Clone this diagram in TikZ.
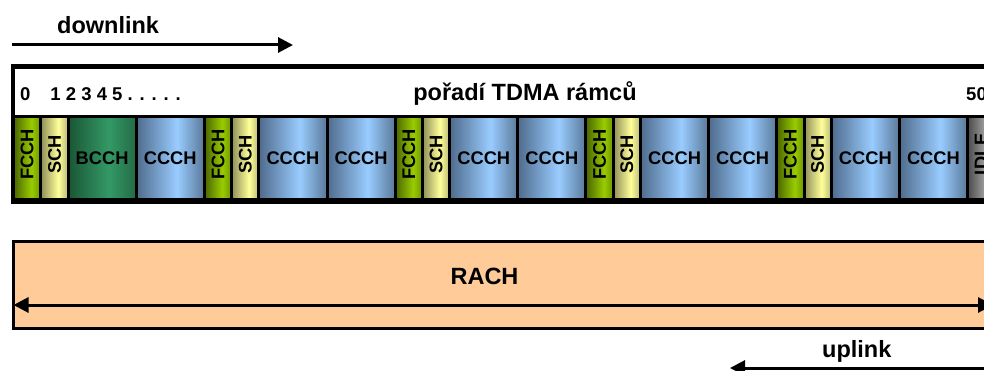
\documentclass[tikz,border=0pt]{standalone}
\usepackage{fontspec}
\setmainfont{Liberation Sans}
\usetikzlibrary{arrows.meta}

% channel colours: dark edge / light centre
\definecolor{fcchD}{HTML}{4A6400}
\definecolor{fcchL}{HTML}{99CC00}
\definecolor{fcchM}{HTML}{6E9400}
\definecolor{schD}{HTML}{8E8E58}
\definecolor{schL}{HTML}{FFFF99}
\definecolor{schM}{HTML}{B8B878}
\definecolor{bcchD}{HTML}{1A5634}
\definecolor{bcchL}{HTML}{339966}
\definecolor{bcchM}{HTML}{236B45}
\definecolor{ccchD}{HTML}{4F6B8C}
\definecolor{ccchL}{HTML}{99CCFF}
\definecolor{ccchM}{HTML}{5A7898}
\definecolor{idleD}{HTML}{4A4A4A}
\definecolor{idleL}{HTML}{9A9A9A}
\definecolor{idleM}{HTML}{5E5E5E}
\definecolor{rachfill}{HTML}{FFCC99}

% cylinder-like horizontal shadings (25bp..75bp spans the cell)
\pgfdeclarehorizontalshading{fcchshade}{100bp}{color(0bp)=(fcchD); color(25bp)=(fcchD); color(58bp)=(fcchL); color(75bp)=(fcchM); color(100bp)=(fcchM)}
\pgfdeclarehorizontalshading{schshade}{100bp}{color(0bp)=(schD); color(25bp)=(schD); color(57bp)=(schL); color(75bp)=(schM); color(100bp)=(schM)}
\pgfdeclarehorizontalshading{bcchshade}{100bp}{color(0bp)=(bcchD); color(25bp)=(bcchD); color(55bp)=(bcchL); color(75bp)=(bcchM); color(100bp)=(bcchM)}
\pgfdeclarehorizontalshading{ccchshade}{100bp}{color(0bp)=(ccchD); color(25bp)=(ccchD); color(55bp)=(ccchL); color(75bp)=(ccchM); color(100bp)=(ccchM)}
\pgfdeclarehorizontalshading{idleshade}{100bp}{color(0bp)=(idleD); color(25bp)=(idleD); color(55bp)=(idleL); color(75bp)=(idleM); color(100bp)=(idleM)}

\tikzset{
  cell/.style={draw=black, line width=3pt, minimum height=83pt, inner sep=0pt, anchor=west},
  narrow/.style={cell, minimum width=27.3pt},
  wide/.style={cell, minimum width=68.1pt},
  fcch/.style={narrow, shading=fcchshade},
  sch/.style={narrow, shading=schshade},
  bcch/.style={wide, shading=bcchshade},
  ccch/.style={wide, shading=ccchshade},
  idle/.style={narrow, shading=idleshade},
  celltxt/.style={inner sep=0pt, font=\bfseries\fontsize{18.3}{18.3}\selectfont},
  vtxt/.style={celltxt, rotate=90, xshift=4.3pt},
  frame/.style={draw=black, line width=3pt, inner sep=0pt, anchor=north west},
  bigtxt/.style={inner sep=0pt, font=\bfseries\fontsize{23.5}{23.5}\selectfont},
  smalltxt/.style={inner sep=0pt, font=\bfseries\fontsize{18.5}{18.5}\selectfont},
  linktxt/.style={inner sep=0pt, font=\bfseries\fontsize{23.5}{23.5}\selectfont},
  dirarrow/.style={line width=3pt, -{Triangle[length=15pt,width=15pt]}},
}

\begin{document}
\begin{tikzpicture}[x=1pt, y=-1pt]
\useasboundingbox (0,0) rectangle (984,371);
\clip (0,0) rectangle (984,371);

% downlink direction
\node[linktxt, anchor=base west] (dltxt) at (57,34) {downlink};
\coordinate (dlA) at (12,45);
\coordinate (dlB) at (293,45);
\draw[dirarrow] (dlA) -- (dlB);

% TDMA frame with numbering row
\node[frame, fill=white, minimum width=990pt, minimum height=134pt] (tdma) at (12,66) {};
\node[smalltxt, anchor=base west] (nums) at (20,101) {0\hspace{20pt}1 2 3 4 5 . . . . .};
\node[bigtxt, anchor=base] (order) at (525,101) {pořadí TDMA rámců};
\node[smalltxt, anchor=base west] (last) at (966,101) {50};

% channel cells
\node[fcch] (c1)  at (12,158.5) {};
\node[sch]  (c2)  at (39.3,158.5) {};
\node[bcch] (c3)  at (66.6,158.5) {};
\node[ccch] (c4)  at (134.7,158.5) {};
\node[fcch] (c5)  at (202.8,158.5) {};
\node[sch]  (c6)  at (230.1,158.5) {};
\node[ccch] (c7)  at (257.4,158.5) {};
\node[ccch] (c8)  at (325.5,158.5) {};
\node[fcch] (c9)  at (393.6,158.5) {};
\node[sch]  (c10) at (420.9,158.5) {};
\node[ccch] (c11) at (448.2,158.5) {};
\node[ccch] (c12) at (516.3,158.5) {};
\node[fcch] (c13) at (584.4,158.5) {};
\node[sch]  (c14) at (611.7,158.5) {};
\node[ccch] (c15) at (639,158.5) {};
\node[ccch] (c16) at (707.1,158.5) {};
\node[fcch] (c17) at (775.2,158.5) {};
\node[sch]  (c18) at (802.5,158.5) {};
\node[ccch] (c19) at (829.8,158.5) {};
\node[ccch] (c20) at (897.9,158.5) {};
\node[idle] (c21) at (966,158.5) {};

% cell labels
\node[vtxt]    (t1)  at (c1.center)  {FCCH};
\node[vtxt]    (t2)  at (c2.center)  {SCH};
\node[celltxt] (t3)  at (c3.center)  {BCCH};
\node[celltxt] (t4)  at (c4.center)  {CCCH};
\node[vtxt]    (t5)  at (c5.center)  {FCCH};
\node[vtxt]    (t6)  at (c6.center)  {SCH};
\node[celltxt] (t7)  at (c7.center)  {CCCH};
\node[celltxt] (t8)  at (c8.center)  {CCCH};
\node[vtxt]    (t9)  at (c9.center)  {FCCH};
\node[vtxt]    (t10) at (c10.center) {SCH};
\node[celltxt] (t11) at (c11.center) {CCCH};
\node[celltxt] (t12) at (c12.center) {CCCH};
\node[vtxt]    (t13) at (c13.center) {FCCH};
\node[vtxt]    (t14) at (c14.center) {SCH};
\node[celltxt] (t15) at (c15.center) {CCCH};
\node[celltxt] (t16) at (c16.center) {CCCH};
\node[vtxt]    (t17) at (c17.center) {FCCH};
\node[vtxt]    (t18) at (c18.center) {SCH};
\node[celltxt] (t19) at (c19.center) {CCCH};
\node[celltxt] (t20) at (c20.center) {CCCH};
\node[vtxt]    (t21) at (c21.center) {IDLE};

% outer border on top of the cells
\draw[line width=3pt] (tdma.north west) rectangle (tdma.south east);

% RACH band
\node[frame, fill=rachfill, minimum width=990pt, minimum height=87pt] (rach) at (12,240) {};
\node[bigtxt, anchor=base] (rachtxt) at (484.5,284) {RACH};
\coordinate (rA) at (13.5,305);
\coordinate (rB) at (993,305);
\draw[line width=3pt, {Triangle[length=15pt,width=15pt]}-{Triangle[length=15pt,width=15pt]}] (rA) -- (rB);

% uplink direction
\node[linktxt, anchor=base west] (ultxt) at (822,357) {uplink};
\coordinate (ulA) at (1000,368);
\coordinate (ulB) at (730,368);
\draw[dirarrow] (ulA) -- (ulB);
\end{tikzpicture}
\end{document}
